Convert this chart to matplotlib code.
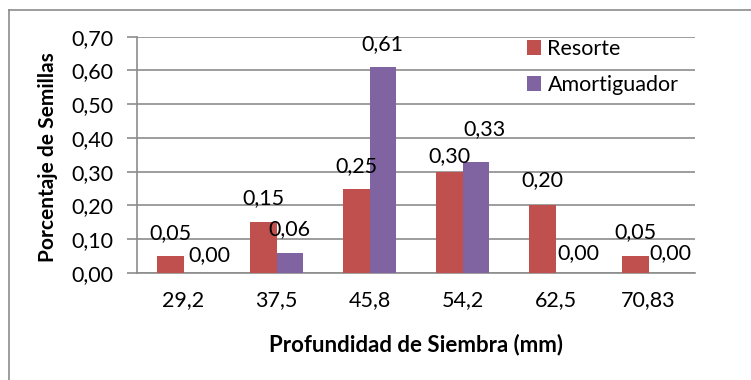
import numpy as np
import matplotlib
matplotlib.use("Agg")
import matplotlib.pyplot as plt
from matplotlib.lines import Line2D

plt.rcParams['font.family'] = ['Lato', 'DejaVu Sans']

# datos
categorias = ["29,2", "37,5", "45,8", "54,2", "62,5", "70,83"]
resorte = [0.05, 0.15, 0.25, 0.30, 0.20, 0.05]
amortiguador = [0.00, 0.06, 0.61, 0.33, 0.00, 0.00]

# desplazamiento de las etiquetas (px): (dx, dy sobre la barra)
off_resorte = [(0, 17), (0, 18), (0, 17), (0, 10), (0, 19), (0, 18)]
off_amort = [(13, 12), (0, 18), (0, 17), (9, 27), (10, 14), (9, 14)]

c_res = "#C0504D"
c_amo = "#8064A2"
gris = "#8C8C8C"
fs = 15.5

fig = plt.figure(figsize=(7.51, 3.80), dpi=100)
ax = fig.add_axes([137/751, 1 - 273/380, (695-137)/751, (273-36.7)/380])

# marco del area del grafico (solo se ven arriba e izquierda)
fig.add_artist(Line2D([8.5/751, 8.5/751], [0, 1 - 9.5/380], color=gris, lw=1.2))
fig.add_artist(Line2D([8.5/751, 1], [1 - 9.5/380, 1 - 9.5/380], color=gris, lw=1.2))

x = np.arange(len(categorias))
w = 0.285
b1 = ax.bar(x - w/2, resorte, w, color=c_res, label="Resorte", zorder=3)
b2 = ax.bar(x + w/2, amortiguador, w, color=c_amo, label="Amortiguador", zorder=3)

def etiquetas(barras, valores, offs):
    for b, v, (dx, dy) in zip(barras, valores, offs):
        ax.annotate(f"{v:.2f}".replace(".", ","),
                    (b.get_x() + b.get_width()/2, v),
                    xytext=(dx*0.72, dy*0.72), textcoords="offset points",
                    ha="center", va="baseline", fontsize=fs, color="black",
                    zorder=4)

etiquetas(b1, resorte, off_resorte)
etiquetas(b2, amortiguador, off_amort)

ax.set_xlim(-0.5, len(categorias) - 0.5)
ax.set_ylim(0, 0.70)
yt = np.arange(0, 0.71, 0.1)
ax.set_yticks(yt)
ax.set_yticklabels([f"{v:.2f}".replace(".", ",") for v in yt], fontsize=fs)
ax.set_xticks(x)
ax.set_xticklabels(categorias, fontsize=fs)
ax.tick_params(axis="x", length=0, pad=12)
ax.tick_params(axis="y", length=7, width=1.2, color=gris, pad=10)
ax.grid(axis="y", color=gris, lw=1.2, zorder=0)
for s in ["top", "right"]:
    ax.spines[s].set_visible(False)
ax.spines["left"].set_color(gris)
ax.spines["bottom"].set_color(gris)
ax.spines["left"].set_linewidth(1.2)
ax.spines["bottom"].set_linewidth(1.2)

ax.set_xlabel("Profundidad de Siembra (mm)", fontsize=16, fontweight="bold")
ax.set_ylabel("Porcentaje de Semillas", fontsize=15, fontweight="bold")
ax.xaxis.set_label_coords(0.5, -0.255)
ax.yaxis.set_label_coords(-0.141, 0.49)

ax.legend(loc="upper left", bbox_to_anchor=(527/751, 1 - 39/380), bbox_transform=fig.transFigure,
          frameon=False, fontsize=fs, handlelength=0.65, handleheight=0.65,
          handletextpad=0.3, labelspacing=0.75, borderaxespad=0, borderpad=0)

fig.savefig("out.png", dpi=100)
